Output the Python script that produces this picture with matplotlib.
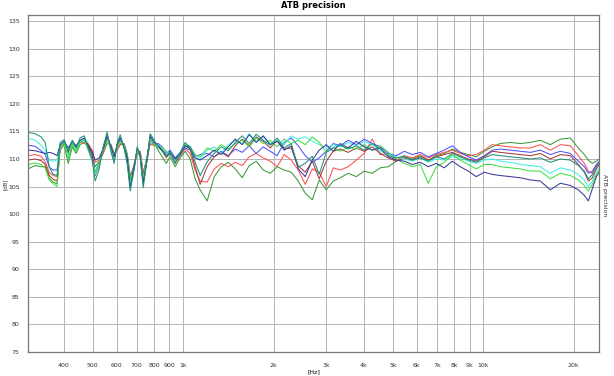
import matplotlib
matplotlib.use("Agg")
import matplotlib.pyplot as plt
from matplotlib.ticker import FixedLocator, NullLocator

# frequency points [Hz]
freq = [304, 321, 336, 347, 358, 369, 380,
        389, 401, 414, 427, 440, 453, 468, 482, 497, 509, 525, 541, 558, 575, 589, 603, 617, 636, 651, 666, 687,
        703, 719, 736, 759, 776, 800, 825, 851, 878, 905, 940, 977, 1015, 1055, 1096, 1139,
        1202, 1269, 1339, 1413, 1491, 1573, 1660, 1751, 1848, 1950, 2057, 2171, 2291, 2417, 2551, 2692,
        2840, 2997, 3162, 3337, 3548, 3773, 4011, 4266, 4536, 4823, 5129,
        5454, 5799, 6166, 6556, 6971, 7413, 7882, 8381, 8913, 9477, 10077, 10715, 11393, 12303, 13289,
        14349, 15488, 16724, 18059, 19498, 20733, 21710, 22387, 23087, 23810, 24363]

teal = [114.8, 114.6, 114.0, 113.0, 108.5, 107.2, 107.0,
        113.0, 113.5, 111.5, 113.4, 112.0, 113.8, 114.2, 112.0, 110.0, 106.0, 108.2, 112.2, 114.9, 111.2, 109.2,
        113.0, 114.4, 111.8, 109.0, 104.2, 108.2, 112.2, 110.2, 104.8, 110.2, 114.6, 113.4, 112.2, 111.4, 110.4,
        111.4, 109.2, 111.2, 113.0, 112.0, 109.4, 107.0,
        109.5, 111.0, 112.2, 111.5, 113.0, 114.2, 112.8, 114.5, 113.4, 112.5, 113.8, 112.0, 112.8, 108.5, 109.2,
        110.5, 107.2, 111.2, 112.0, 112.5, 111.8, 112.4, 111.6, 112.8, 111.8, 110.6, 110.2,
        110.5, 109.8, 110.2, 109.6, 110.4, 110.0, 111.0, 110.4, 109.8, 109.4, 110.2, 110.8, 110.6, 110.4, 110.2,
        110.0, 110.2, 109.4, 110.0, 109.8, 108.8, 107.8, 106.4, 107.2, 108.6, 109.2]

cyan = [113.8, 113.4, 112.5, 111.5, 109.8, 109.6, 109.8,
        112.2, 113.0, 110.6, 112.8, 111.6, 113.2, 113.6, 111.6, 109.6, 107.2, 109.0, 112.0, 114.2, 111.8, 110.0,
        112.4, 113.8, 112.2, 110.0, 105.4, 108.8, 111.8, 110.8, 106.0, 110.4, 113.8, 112.8, 112.6, 112.0, 111.2,
        110.6, 109.6, 110.8, 112.6, 112.4, 110.6, 110.0,
        111.6, 112.2, 111.0, 112.6, 113.4, 112.8, 114.6, 113.2, 114.0, 112.8, 113.4, 112.6, 114.2, 113.6, 114.0,
        113.2, 112.6, 112.0, 112.6, 112.2, 113.0, 112.4, 113.2, 112.6, 111.4, 110.8, 110.4,
        110.0, 109.6, 110.2, 109.4, 110.0, 109.8, 110.4, 110.2, 109.6, 109.2, 109.8, 110.0, 109.6, 109.4, 109.0,
        108.8, 108.6, 107.4, 108.4, 108.0, 107.2, 106.2, 105.0, 106.0, 107.6, 108.4]

blue = [112.5, 112.3, 111.5, 110.8, 108.5, 108.0, 108.0,
        112.4, 113.0, 111.4, 113.0, 112.0, 113.0, 113.4, 112.4, 111.0, 107.6, 109.4, 111.6, 114.0, 112.0, 110.2,
        112.6, 113.6, 112.4, 110.4, 106.0, 109.0, 111.4, 110.8, 106.8, 110.6, 113.4, 112.6, 112.8, 112.2, 111.0,
        111.6, 110.2, 111.2, 112.0, 111.6, 110.4, 110.8,
        111.0, 110.4, 111.4, 110.6, 111.8, 111.2, 112.4, 111.0, 112.2, 111.4, 110.6, 113.0, 113.8, 112.4, 110.6,
        109.4, 110.2, 111.4, 112.8, 112.4, 113.4, 112.6, 113.6, 112.8, 112.2, 111.0, 110.6,
        111.4, 110.8, 111.2, 110.4, 111.0, 111.6, 112.4, 111.2, 110.4, 109.8, 110.6, 111.6, 111.8, 111.6, 111.4,
        111.2, 111.6, 110.8, 111.4, 111.0, 109.6, 108.6, 107.4, 107.8, 109.0, 109.6]

navy = [111.6, 111.5, 111.2, 111.0, 111.2, 111.0, 110.6,
        112.6, 113.2, 112.0, 113.2, 112.4, 113.4, 113.8, 112.6, 111.4, 109.8, 110.2, 111.8, 114.2, 112.2, 110.4,
        112.6, 113.8, 112.0, 110.2, 104.8, 108.8, 112.0, 110.8, 105.6, 110.2, 114.2, 113.0, 112.4, 111.6, 110.6,
        111.0, 110.0, 110.8, 112.4, 112.0, 110.2, 109.8,
        110.6, 111.6, 110.8, 112.2, 113.6, 112.6, 114.4, 113.0, 114.2, 112.6, 113.2, 111.6, 112.4, 108.2, 106.8,
        109.8, 111.6, 112.6, 111.4, 112.8, 112.0, 113.2, 112.2, 111.6, 112.0, 110.4, 109.8,
        109.6, 109.0, 109.4, 108.6, 109.2, 108.4, 109.6, 108.6, 107.8, 106.8, 107.6, 107.2, 107.0, 106.8, 106.6,
        106.2, 106.0, 104.4, 105.6, 105.2, 104.4, 103.4, 102.4, 104.6, 106.8, 107.6]

red = [110.6, 110.8, 110.5, 109.5, 107.5, 107.0, 106.8,
       112.0, 112.8, 111.0, 112.6, 112.0, 113.0, 112.8, 112.8, 111.6, 109.4, 109.8, 111.0, 113.6, 112.4, 110.6,
       111.8, 112.8, 112.6, 110.6, 106.4, 109.2, 111.0, 111.4, 107.6, 110.0, 112.8, 112.4, 112.8, 111.6, 110.2,
       111.0, 109.2, 110.6, 111.8, 111.0, 108.0, 106.0,
       105.8, 108.2, 109.2, 108.6, 109.4, 108.8, 110.4, 111.0, 110.2, 109.6, 108.6, 110.8, 109.8, 108.0, 105.4,
       108.2, 107.6, 105.0, 108.4, 108.0, 108.6, 109.8, 111.0, 113.6, 110.8, 111.0, 109.8,
       110.6, 110.2, 110.8, 110.2, 110.8, 111.2, 111.6, 111.0, 110.6, 110.8, 111.6, 112.6, 112.4, 112.2, 112.0,
       112.0, 112.6, 111.6, 112.6, 112.4, 110.6, 109.2, 107.8, 107.4, 108.8, 109.4]

brown = [109.8, 110.0, 109.7, 109.0, 107.0, 106.3, 106.0,
         112.4, 113.0, 111.2, 112.8, 112.2, 113.2, 113.6, 112.4, 110.8, 107.0, 108.8, 111.8, 114.4, 111.6, 109.8,
         112.6, 113.8, 112.2, 109.8, 105.0, 108.6, 111.6, 110.4, 105.6, 110.0, 114.0, 113.0, 112.4, 111.6, 110.6,
         111.0, 109.4, 110.8, 112.4, 111.8, 108.6, 105.4,
         108.6, 110.4, 111.2, 110.4, 112.4, 113.6, 112.4, 114.0, 113.2, 112.0, 113.4, 111.8, 112.0, 108.8, 107.6,
         109.6, 106.4, 109.6, 111.4, 111.8, 111.2, 112.0, 111.4, 112.2, 111.0, 110.2, 109.6,
         110.2, 109.8, 110.4, 109.8, 110.4, 110.8, 111.2, 110.6, 110.0, 109.6, 110.4, 111.4, 111.2, 111.0, 110.8,
         110.6, 111.0, 110.0, 110.8, 110.6, 109.0, 107.6, 106.0, 106.6, 108.2, 109.0]

lime = [109.0, 109.3, 109.0, 108.3, 106.2, 105.5, 105.0,
        112.0, 113.0, 110.0, 112.6, 111.4, 113.0, 113.4, 111.8, 109.8, 107.6, 109.4, 111.6, 113.4, 112.2, 110.4,
        112.2, 113.2, 112.4, 110.6, 106.2, 108.4, 111.4, 111.0, 106.6, 110.6, 113.6, 112.6, 112.0, 112.2, 111.4,
        110.8, 110.0, 110.6, 112.6, 112.2, 110.8, 110.4,
        112.0, 111.4, 112.6, 111.8, 112.8, 113.4, 112.2, 113.8, 112.8, 113.4, 112.2, 113.6, 112.8, 113.4, 112.6,
        114.0, 113.0, 111.2, 112.0, 111.4, 112.2, 111.8, 112.6, 111.6, 112.4, 111.2, 110.0,
        109.2, 108.6, 109.0, 105.6, 108.6, 109.4, 110.8, 109.8, 109.0, 108.2, 109.0, 109.0, 108.6, 108.4, 108.2,
        107.8, 107.8, 106.4, 107.4, 107.0, 106.2, 105.2, 104.2, 105.4, 107.2, 108.0]

green = [108.2, 108.8, 108.6, 108.6, 106.5, 105.8, 105.5,
         111.6, 112.6, 109.2, 112.2, 111.0, 112.6, 113.0, 112.2, 110.8, 108.6, 109.6, 111.0, 112.8, 112.6, 111.0,
         111.6, 112.6, 112.8, 111.0, 107.0, 108.8, 111.2, 111.4, 107.4, 110.4, 112.6, 112.8, 111.6, 110.4, 109.2,
         110.4, 108.6, 110.2, 111.4, 110.0, 106.4, 104.4,
         102.4, 106.8, 108.6, 109.4, 108.2, 106.6, 108.8, 109.6, 108.0, 107.4, 108.6, 108.0, 107.6, 106.0, 103.8,
         102.6, 106.2, 104.4, 106.0, 106.6, 107.4, 106.8, 107.8, 107.4, 108.4, 108.6, 109.6,
         110.4, 110.0, 110.6, 109.8, 110.6, 111.0, 111.8, 111.2, 110.8, 110.4, 111.4, 112.2, 112.8, 113.0, 112.8,
         113.0, 113.4, 112.6, 113.6, 113.8, 112.0, 110.8, 109.8, 109.2, 109.6, 110.0]

xticks = [400, 500, 600, 700, 800, 900, 1000, 2000, 3000, 4000, 5000, 6000, 7000, 8000, 9000, 10000, 20000]
xlabels = ["400", "500", "600", "700", "800", "900", "1k", "2k", "3k", "4k", "5k", "6k", "7k", "8k", "9k", "10k", "20k"]
yticks = list(range(75, 136, 5))

fig = plt.figure(figsize=(6.14, 3.76), dpi=100)
ax = fig.add_axes([0.0456, 0.0638, 0.930, 0.8962])

curves = [(green, "#3a9a3a"), (red, "#ff5050"), (blue, "#5050ff"), (brown, "#a83a3a"),
          (cyan, "#40f0e8"), (lime, "#40e040"), (navy, "#3a3a9a"), (teal, "#20907a")]
for vals, col in curves:
    ax.plot(freq, vals, color=col, lw=0.75)

ax.set_xscale("log")
ax.set_xlim(304, 24300)
ax.set_ylim(75, 136.1)
ax.xaxis.set_major_locator(FixedLocator(xticks))
ax.xaxis.set_minor_locator(NullLocator())
ax.set_xticks(xticks)
ax.set_xticklabels(xlabels)
ax.set_yticks(yticks)
ax.tick_params(axis="both", length=0, labelsize=4.5, colors="#333333")
ax.tick_params(axis="x", pad=8)
ax.tick_params(axis="y", pad=6)
ax.grid(True, color="#b4b4b4", lw=0.7)
ax.set_axisbelow(True)
for s in ax.spines.values():
    s.set_color("#777777")
    s.set_linewidth(0.9)

ax.set_title("ATB precision", fontsize=6, fontweight="bold", pad=5)
ax.set_xlabel("[Hz]", fontsize=4.5, labelpad=1)
fig.text(0.009, 0.51, "[dB]", rotation=90, fontsize=4, ha="center", va="center", color="#333333")
fig.text(0.985, 0.48, "ATB precision", rotation=270, fontsize=4.5, ha="center", va="center", color="#333333")

plt.savefig("out.png", dpi=100)
plt.close()
